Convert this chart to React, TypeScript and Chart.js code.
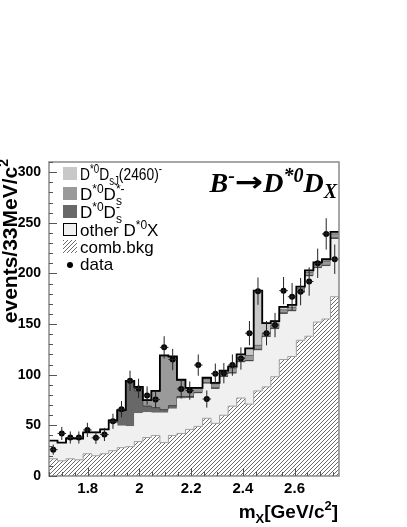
import { useEffect, useRef } from 'react';
import { Chart, registerables } from 'chart.js';

Chart.register(...registerables);

// ---------------- data ----------------
const binLow = 1.65; // first bin edge, GeV/c^2
const binWidth = 0.033; // 33 MeV bins
const xMin = 1.65;
const xMax = 2.772;
const yMin = 0;
const yMax = 310;

const combBkg = [17, 15, 17, 16, 22, 20, 22, 25, 28, 29, 34, 38, 40, 33, 40, 42, 46, 49, 57, 52, 60, 69, 77, 71, 84, 88, 98, 115, 118, 134, 138, 152, 155, 177];
const otherDX = [18, 18, 20, 21, 21, 23, 23.5, 27, 21.5, 20, 28, 25, 22.5, 29.5, 26.5, 34.5, 31, 32.5, 34, 34, 37.5, 32, 35, 42, 40, 49, 47, 45, 44.5, 47, 59, 53, 52, 57];
const dStarDsMinus = [0, 0, 0, 0, 0, 0, 0.5, 3, 15, 44, 22, 6, 5, 3, 3, 2, 1.5, 1, 1, 1, 1, 1, 1, 1, 1, 1, 1, 1, 1, 1, 1, 1, 1, 1];
const dStarDsStar = [0, 0, 0, 0, 0, 0, 0, 0, 0.5, 1, 4, 6, 16, 53, 48, 16, 8, 4, 4, 4, 4, 4, 4, 5, 4, 3, 3, 3, 3, 3, 3, 3, 4, 4];
const dStarDsJ = [0, 0, 0, 0, 0, 0, 0, 0, 0, 0, 0, 0, 0.5, 0.5, 0.5, 0.5, 0.5, 0.5, 1, 1, 1.5, 2, 3, 7, 54, 10, 4, 3, 2.5, 2, 2, 2, 2, 2];
const dataCounts = [26, 42, 38, 38, 45.5, 37.7, 41, 54, 66, 94, 86.5, 79.5, 75.5, 127, 115, 86, 84.3, 109.5, 76, 101, 101.5, 109.5, 116, 141, 182.5, 141, 149, 183, 177, 182, 192, 210, 239, 214];
const dataErrors = [5, 6.5, 6, 6, 7, 6, 6.5, 7.5, 8, 10, 9.5, 9, 8.5, 11, 10.5, 9.5, 9, 10.5, 8.5, 10, 10, 10.5, 11, 12, 13.5, 12, 12, 13.5, 13.5, 13.5, 14, 14.5, 15.5, 14.5];
const xTickLabels = [1.8, 2.0, 2.2, 2.4, 2.6];
const yTickLabels = [0, 50, 100, 150, 200, 250, 300];
const xMinorStep = 0.05;
const yMinorStep = 10;

// ---------------- helpers ----------------
type Seg = { t: string; k?: 'sup' | 'sub'; hold?: boolean; sx?: number; fam?: string; sz?: number; st?: string; dy?: number };
type RichFont = { family: string; size: number; small: number; rise: number; drop: number; weight?: string; style?: string };

function drawRich(ctx: CanvasRenderingContext2D, segs: Seg[], x: number, y: number, f: RichFont, align: 'left' | 'right' = 'left', fit?: number) {
  const fontFor = (s: Seg) => {
    const sz = s.sz ?? (s.k ? f.small : f.size);
    return `${s.st ?? f.style ?? 'normal'} ${f.weight ?? 'normal'} ${sz}px ${s.fam ?? f.family}`;
  };
  const items = segs.map((s) => {
    ctx.font = fontFor(s);
    return { ...s, w: ctx.measureText(s.t).width * (s.sx ?? 1) };
  });
  let total = 0;
  let held = 0;
  for (const it of items) {
    if (it.hold) { held = it.w; continue; }
    total += Math.max(it.w, held);
    held = 0;
  }
  total += held;
  const scale = fit && total > fit ? fit / total : 1;
  ctx.save();
  const startX = align === 'right' ? x - total * scale : x;
  ctx.translate(startX, y);
  ctx.scale(scale, 1);
  let cx = 0;
  held = 0;
  ctx.textAlign = 'left';
  ctx.textBaseline = 'alphabetic';
  for (const it of items) {
    ctx.font = fontFor(it);
    const dy = (it.k === 'sup' ? -f.rise : it.k === 'sub' ? f.drop : 0) + (it.dy ?? 0);
    ctx.save();
    ctx.translate(cx, dy);
    ctx.scale(it.sx ?? 1, 1);
    ctx.fillText(it.t, 0, 0);
    ctx.restore();
    if (it.hold) { held = it.w; continue; }
    cx += Math.max(it.w, held);
    held = 0;
  }
  ctx.restore();
}

function makeHatch(): CanvasPattern | string {
  const c = document.createElement('canvas');
  c.width = 4;
  c.height = 4;
  const g = c.getContext('2d');
  if (!g) return '#ccc';
  g.fillStyle = '#ffffff';
  g.fillRect(0, 0, 4, 4);
  g.strokeStyle = '#5a5a5a';
  g.lineWidth = 0.9;
  g.beginPath();
  g.moveTo(-1, 5); g.lineTo(5, -1);
  g.moveTo(-1, 1); g.lineTo(1, -1);
  g.moveTo(3, 5); g.lineTo(5, 3);
  g.stroke();
  return g.createPattern(c, 'repeat') ?? '#ccc';
}

const isMajor = (v: number, majors: number[]) => majors.some((m) => Math.abs(m - v) < 1e-6);

export default function App() {
  const ref = useRef<HTMLCanvasElement>(null);

  useEffect(() => {
    const canvas = ref.current;
    if (!canvas) return;
    const nBins = combBkg.length;
    const edges = Array.from({ length: nBins + 1 }, (_, i) => +(binLow + i * binWidth).toFixed(4));
    const centers = edges.slice(0, nBins).map((e) => e + binWidth / 2);
    const stepData = (vals: number[]) => edges.map((x, i) => ({ x, y: vals[Math.min(i, nBins - 1)] }));
    const totals = combBkg.map((v, i) => v + otherDX[i] + dStarDsMinus[i] + dStarDsStar[i] + dStarDsJ[i]);
    const hatch = makeHatch();

    const colJ = '#c8c8c8';
    const colStar = '#9a9a9a';
    const colMinus = '#686868';
    const colOther = '#f0f0f0';

    const legendRows: { segs: Seg[]; kind: 'box' | 'boxBorder' | 'dot'; color?: any; fit?: number }[] = [
      { segs: [{ t: 'D' }, { t: '*0', k: 'sup' }, { t: 'D' }, { t: 'sJ', k: 'sub' }, { t: '(2460)' }, { t: '-', k: 'sup' }], kind: 'box', color: colJ, fit: 82 },
      { segs: [{ t: 'D' }, { t: '*0', k: 'sup' }, { t: 'D' }, { t: 's', k: 'sub', hold: true }, { t: '*-', k: 'sup' }], kind: 'box', color: colStar },
      { segs: [{ t: 'D' }, { t: '*0', k: 'sup' }, { t: 'D' }, { t: 's', k: 'sub', hold: true }, { t: '-', k: 'sup' }], kind: 'box', color: colMinus },
      { segs: [{ t: 'other D' }, { t: '*0', k: 'sup' }, { t: 'X' }], kind: 'boxBorder', color: colOther },
      { segs: [{ t: 'comb.bkg' }], kind: 'box', color: hatch },
      { segs: [{ t: 'data' }], kind: 'dot' },
    ];
    const legendBase = [180, 200, 218, 236, 253, 270];

    const decor = {
      id: 'decor',
      afterDatasetsDraw(chart: any) {
        const { ctx, chartArea: a, scales } = chart;
        const xs = scales.x;
        const ys = scales.y;
        ctx.save();
        // error bars
        ctx.strokeStyle = '#222';
        ctx.lineWidth = 1;
        ctx.beginPath();
        for (let i = 0; i < nBins; i++) {
          const px = xs.getPixelForValue(centers[i]);
          const py = ys.getPixelForValue(dataCounts[i]);
          ctx.moveTo(px, ys.getPixelForValue(dataCounts[i] - dataErrors[i]));
          ctx.lineTo(px, ys.getPixelForValue(dataCounts[i] + dataErrors[i]));
          ctx.moveTo(xs.getPixelForValue(edges[i]), py);
          ctx.lineTo(xs.getPixelForValue(edges[i + 1]), py);
        }
        ctx.stroke();
        // frame
        ctx.strokeStyle = '#8a8a8a';
        ctx.lineWidth = 1.5;
        ctx.strokeRect(a.left, a.top, a.right - a.left, a.bottom - a.top);
        // ticks
        ctx.strokeStyle = '#555';
        ctx.lineWidth = 1;
        ctx.beginPath();
        for (const t of xs.ticks) {
          const px = Math.round(xs.getPixelForValue(t.value)) + 0.5;
          const len = isMajor(t.value, xTickLabels) ? 8 : 4;
          ctx.moveTo(px, a.bottom);
          ctx.lineTo(px, a.bottom - len);
        }
        for (const t of ys.ticks) {
          const py = Math.round(ys.getPixelForValue(t.value)) + 0.5;
          const len = isMajor(t.value, yTickLabels) ? 8 : 4;
          ctx.moveTo(a.left, py);
          ctx.lineTo(a.left + len, py);
        }
        ctx.stroke();
        ctx.restore();
      },
      afterDraw(chart: any) {
        const { ctx, chartArea: a } = chart;
        ctx.save();
        ctx.fillStyle = '#000';
        // legend
        const lf: RichFont = { family: '"Liberation Sans", Arial, sans-serif', size: 17, small: 12, rise: 7, drop: 5 };
        legendRows.forEach((row, i) => {
          const base = legendBase[i];
          const bx = a.left + 14;
          if (row.kind === 'dot') {
            ctx.fillStyle = '#000';
            ctx.beginPath();
            ctx.arc(bx + 7, base - 5, 3, 0, Math.PI * 2);
            ctx.fill();
          } else {
            ctx.fillStyle = row.color;
            ctx.fillRect(bx, base - 13, 14, 13);
            if (row.kind === 'boxBorder') {
              ctx.strokeStyle = '#000';
              ctx.lineWidth = 1;
              ctx.strokeRect(bx + 0.5, base - 12.5, 13, 12);
            }
          }
          ctx.fillStyle = '#000';
          drawRich(ctx, row.segs, bx + 17, base, lf, 'left', row.fit);
        });
        // decay title
        drawRich(
          ctx,
          [
            { t: 'B' },
            { t: '-', k: 'sup' },
            { t: '\u2192', fam: '"DejaVu Sans", sans-serif', sz: 27, st: 'normal', dy: -1, sx: 1.25 },
            { t: 'D' },
            { t: '*0', k: 'sup' },
            { t: 'D' },
            { t: 'X', k: 'sub' },
          ],
          a.right - 2, 192,
          { family: '"Liberation Serif", "Times New Roman", serif', size: 28, small: 20, rise: 10, drop: 6, weight: 'bold', style: 'italic' },
          'right'
        );
        // x title
        drawRich(
          ctx,
          [{ t: 'm' }, { t: 'X', k: 'sub' }, { t: '[GeV/c' }, { t: '2', k: 'sup' }, { t: ']' }],
          a.right - 1, 518,
          { family: '"Liberation Sans", Arial, sans-serif', size: 19, small: 13, rise: 8, drop: 5, weight: 'bold' },
          'right'
        );
        // y title (rotated)
        ctx.translate(17, a.top - 3);
        ctx.rotate(-Math.PI / 2);
        drawRich(
          ctx,
          [{ t: 'events/33MeV/c' }, { t: '2', k: 'sup' }],
          0, 0,
          { family: '"Liberation Sans", Arial, sans-serif', size: 21, small: 14, rise: 9, drop: 5, weight: 'bold' },
          'right'
        );
        ctx.restore();
      },
    };

    const lineBase = { type: 'line', pointRadius: 0, stepped: 'before', stack: 'mc' } as any;

    const chart = new Chart(canvas, {
      type: 'line',
      data: {
        datasets: [
          {
            label: 'data',
            data: centers.map((x, i) => ({ x, y: dataCounts[i] })),
            showLine: false,
            pointRadius: 3,
            pointBackgroundColor: '#000',
            pointBorderWidth: 0,
            stack: 'data',
            fill: false,
          } as any,
          {
            label: 'total',
            data: stepData(totals),
            stepped: 'before',
            pointRadius: 0,
            borderColor: '#000',
            borderWidth: 1.8,
            fill: false,
            stack: 'total',
          } as any,
          { ...lineBase, label: 'comb.bkg', data: stepData(combBkg), fill: 'origin', backgroundColor: hatch, borderColor: '#a0a0a0', borderWidth: 1 },
          { ...lineBase, label: 'other D*0X', data: stepData(otherDX), fill: '-1', backgroundColor: colOther, borderColor: colOther, borderWidth: 0 },
          { ...lineBase, label: 'D*0Ds-', data: stepData(dStarDsMinus), fill: '-1', backgroundColor: colMinus, borderColor: '#444', borderWidth: 1 },
          { ...lineBase, label: 'D*0Ds*-', data: stepData(dStarDsStar), fill: '-1', backgroundColor: colStar, borderColor: '#6a6a6a', borderWidth: 1 },
          { ...lineBase, label: 'D*0DsJ(2460)-', data: stepData(dStarDsJ), fill: '-1', backgroundColor: colJ, borderColor: '#8a8a8a', borderWidth: 1 },
        ],
      },
      options: {
        responsive: false,
        animation: false,
        events: [],
        layout: { padding: { left: 0, right: 68, top: 162, bottom: 0 } },
        plugins: { legend: { display: false }, tooltip: { enabled: false }, title: { display: false } },
        scales: {
          x: {
            type: 'linear',
            min: xMin,
            max: xMax,
            grid: { display: false, drawTicks: false },
            border: { display: false },
            afterBuildTicks: (s: any) => {
              const t: { value: number }[] = [];
              for (let k = Math.floor(xMin / xMinorStep) + 1; k * xMinorStep <= xMax + 1e-9; k++) {
                t.push({ value: Math.round(k * xMinorStep * 1000) / 1000 });
              }
              s.ticks = t;
            },
            afterFit: (s: any) => { s.height = 51; },
            ticks: {
              autoSkip: false,
              maxRotation: 0,
              padding: 4,
              color: '#000',
              font: { family: '"Liberation Sans", Arial, sans-serif', weight: 'bold', size: 15 },
              callback: (v: any) => (isMajor(Number(v), xTickLabels) ? String(+Number(v).toFixed(1)) : ''),
            },
          },
          y: {
            type: 'linear',
            stacked: true,
            min: yMin,
            max: yMax,
            grid: { display: false, drawTicks: false },
            border: { display: false },
            afterBuildTicks: (s: any) => {
              const t: { value: number }[] = [];
              for (let v = yMin; v <= yMax; v += yMinorStep) t.push({ value: v });
              s.ticks = t;
            },
            afterFit: (s: any) => { s.width = 49; },
            ticks: {
              autoSkip: false,
              padding: 8,
              color: '#000',
              font: { family: '"Liberation Sans", Arial, sans-serif', weight: 'bold', size: 14 },
              callback: (v: any) => (isMajor(Number(v), yTickLabels) ? String(v) : ''),
            },
          },
        },
      } as any,
      plugins: [decor as any],
    });
    return () => chart.destroy();
  }, []);

  return (
    <div style={{ position: 'absolute', left: 0, top: 0, width: 407, height: 527 }}>
      <canvas ref={ref} width={407} height={527} style={{ display: 'block', width: 407, height: 527 }} />
    </div>
  );
}
